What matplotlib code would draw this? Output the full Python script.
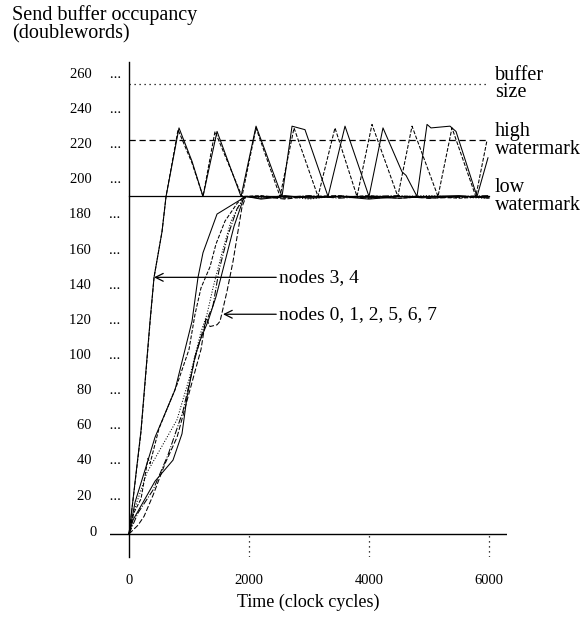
import matplotlib
matplotlib.use("Agg")
import matplotlib.pyplot as plt
from matplotlib.transforms import ScaledTranslation

plt.rcParams['font.family'] = ['Liberation Serif', 'DejaVu Serif']

# watermark levels (doublewords)
bufferSize = 256
highMark = 224
lowMark = 192

# nodes 3 and 4: fast fill, then oscillate between the watermarks
node3T = [0, 200, 350, 417, 550, 617, 833, 1050, 1233, 1467, 1867, 2117, 2550, 2717, 2933,
          3317, 3600, 4000, 4233, 4550, 4617, 4800, 4967, 5033, 5350, 5450, 5800, 5983]
node3V = [0, 59, 121, 146, 172, 192, 231, 212, 192, 229, 192, 232, 192, 232, 230,
          192, 232, 192, 231, 206, 204, 192, 233, 231, 232, 229, 192, 214]
node4T = [0, 200, 350, 417, 550, 617, 817, 1050, 1233, 1433, 1883, 2117, 2517, 2750, 3150,
          3433, 3800, 4050, 4480, 4717, 5150, 5383, 5780, 5967]
node4V = [0, 58, 120, 146, 172, 192, 230, 211, 192, 229, 192, 231, 192, 231, 192,
          231, 192, 233, 192, 232, 192, 231, 192, 224]

# nodes 0, 1, 2, 5, 6, 7: slow fill, then sit at the low watermark
tailT = [2200, 2600, 3000, 3500, 4000, 4500, 5000, 5500, 6000]
slowT = {
    'A': [0, 100, 317, 433, 767, 1050, 1150, 1233, 1467, 1850, 1933],
    'B': [0, 80, 200, 317, 350, 500, 800, 1000, 1100, 1200, 1350, 1450, 1600, 1800, 1917],
    'C': [0, 100, 300, 550, 800, 1000, 1200, 1300, 1400, 1550, 1700, 1917],
    'D': [0, 150, 400, 650, 900, 1100, 1250, 1400, 1500, 1650, 1800, 1933],
    'E': [0, 67, 267, 433, 733, 883, 967, 1100, 1183, 1317, 1450, 1600, 1750, 1900, 1950],
    'F': [0, 150, 250, 400, 600, 800, 1000, 1200, 1283, 1350, 1467, 1517, 1633, 1733, 1883, 1950],
}
slowV = {
    'A': [0, 18, 42, 55, 82, 121, 146, 160, 182, 190, 192],
    'B': [0, 12, 20, 43, 40, 60, 85, 105, 125, 140, 152, 165, 178, 188, 192],
    'C': [0, 15, 35, 50, 65, 88, 115, 125, 140, 160, 178, 192],
    'D': [0, 12, 25, 45, 70, 100, 118, 130, 150, 170, 185, 192],
    'E': [0, 8, 20, 30, 42, 57, 78, 101, 110, 121, 135, 155, 175, 190, 192],
    'F': [0, 5, 10, 22, 40, 55, 80, 105, 123, 118, 119, 121, 138, 155, 186, 192],
}
tailV = {
    'A': [191, 192.5, 191, 192, 190.5, 192, 191.5, 192, 191.5],
    'B': [192.5, 191, 192, 191.5, 192.5, 191, 192, 191, 192],
    'C': [191.5, 192, 190.5, 192.5, 191, 192, 192.5, 191.5, 191],
    'D': [192, 191.5, 192.5, 191, 192, 192.5, 191, 192, 192.5],
    'E': [190.5, 192, 191.5, 192, 191.5, 191, 192, 192.5, 191],
    'F': [192, 190.5, 192, 192.5, 191, 192, 191, 191.5, 192],
}
slowStyle = {'A': '-', 'B': '--', 'C': ':', 'D': '-.', 'E': '-', 'F': (0, (5, 2))}

yTicks = list(range(0, 261, 20))
xTicks = [0, 2000, 4000, 6000]

fig = plt.figure(figsize=(5.86, 6.18), dpi=100)
ax = fig.add_axes([110 / 586, 61 / 618, 397 / 586, 495 / 618])
ax.set_xlim(-317, 6300)
ax.set_ylim(-13.1, 268.5)

lw = 0.75
ax.plot([0, 6000], [bufferSize, bufferSize], color='black', lw=0.9, linestyle=(0, (1, 3)))
ax.plot([0, 6000], [highMark, highMark], color='black', lw=0.9, linestyle=(0, (5, 3)))
ax.plot([0, 6000], [lowMark, lowMark], color='black', lw=0.9)

for key in slowT:
    ax.plot(slowT[key] + tailT, slowV[key] + tailV[key], color='black', lw=lw,
            linestyle=slowStyle[key])
ax.plot(node3T, node3V, color='black', lw=lw)
ax.plot(node4T, node4V, color='black', lw=lw, linestyle='--')

# axes drawn through the origin
for s in ['top', 'right', 'bottom']:
    ax.spines[s].set_visible(False)
ax.spines['left'].set_position(('data', 0))
ax.spines['left'].set_linewidth(1.0)
ax.axhline(0, color='black', lw=1.0)
ax.vlines(xTicks[1:], -13.1, 0, colors='black', linestyles=(0, (1, 3)), lw=0.9)

ax.set_yticks(yTicks)
ax.set_yticklabels([f"{v}     ..." if v > 0 else "" for v in yTicks])
ax.set_xticks(xTicks)
ax.set_xticklabels([str(v) for v in xTicks])
ax.tick_params(axis='y', length=0, pad=6, labelsize=10.5)
ax.tick_params(axis='x', length=0, pad=12, labelsize=10.5)
shift = ScaledTranslation(0, 3 / 72, fig.dpi_scale_trans)
for lab in ax.get_yticklabels():
    lab.set_transform(lab.get_transform() + shift)
# the zero label has no dotted leader
ax.annotate("0", xy=(0, 0), xycoords='data', xytext=(-32, 3), textcoords='offset pixels',
            ha='right', va='center_baseline', fontsize=10.5, annotation_clip=False)
ax.set_xlabel("Time (clock cycles)", fontsize=13, labelpad=5)

fig.text(12 / 586, 1 - 5 / 618, "Send buffer occupancy\n(doublewords)", fontsize=14.5,
         va='top', ha='left', linespacing=0.95)

for val, txt in [(bufferSize, "buffer\nsize"), (highMark, "high\nwatermark"),
                 (lowMark, "low\nwatermark")]:
    ax.text(6100, val, txt, fontsize=14.5, va='center', ha='left',
            linespacing=0.9, clip_on=False)

arrow = dict(arrowstyle='->', color='black', lw=0.9, shrinkA=0, shrinkB=0)
ax.annotate("nodes 3, 4", xy=(417, 146), xytext=(2500, 146), fontsize=14,
            va='center', ha='left', arrowprops=arrow)
ax.annotate("nodes 0, 1, 2, 5, 6, 7", xy=(1567, 125), xytext=(2500, 125), fontsize=14,
            va='center', ha='left', arrowprops=arrow)

plt.savefig("out.png", dpi=100)
